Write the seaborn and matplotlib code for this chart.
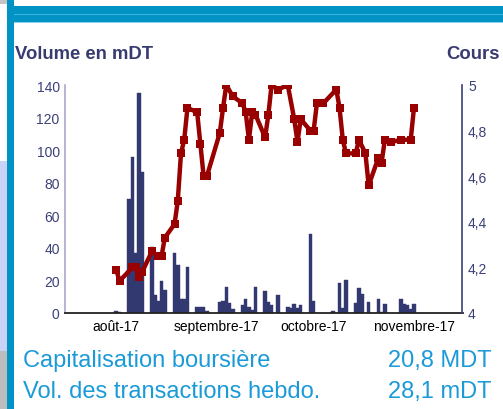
import matplotlib
matplotlib.use("Agg")
import matplotlib.pyplot as plt
import pandas as pd
import seaborn as sns
from matplotlib.patches import Rectangle

# ---------------- data ----------------
bar_dates = ["2017-08-01", "2017-08-02", "2017-08-05", "2017-08-06", "2017-08-07",
             "2017-08-08", "2017-08-09", "2017-08-12", "2017-08-13", "2017-08-14",
             "2017-08-15", "2017-08-16", "2017-08-19", "2017-08-20", "2017-08-21",
             "2017-08-22", "2017-08-23", "2017-08-26", "2017-08-27", "2017-08-28",
             "2017-08-29", "2017-09-02", "2017-09-03", "2017-09-04", "2017-09-05",
             "2017-09-06", "2017-09-09", "2017-09-10", "2017-09-11", "2017-09-12",
             "2017-09-13", "2017-09-16", "2017-09-17", "2017-09-18", "2017-09-20",
             "2017-09-23", "2017-09-24", "2017-09-25", "2017-09-26", "2017-09-27",
             "2017-09-30", "2017-10-01", "2017-10-07", "2017-10-09", "2017-10-10",
             "2017-10-11", "2017-10-14", "2017-10-15", "2017-10-16", "2017-10-18",
             "2017-10-21", "2017-10-22", "2017-10-23", "2017-10-28", "2017-10-29",
             "2017-10-30", "2017-10-31", "2017-11-01"]
volumes = [1.4, 0.8, 70, 95.7, 36.8,
           135, 86.3, 40.3, 11.2, 7.6,
           19.8, 14.3, 37, 29.7, 8.8,
           8.8, 28.4, 3.9, 3.9, 3.9,
           1.4, 7, 7.6, 16.2, 6.3,
           2.7, 5.1, 8.8, 3.9, 2,
           16.2, 13.7, 7, 5.1, 11.2,
           3.9, 3.3, 5.7, 3.3, 5.1,
           48.7, 7.6, 1.4, 18.6, 3.3,
           20.4, 6.3, 15.5, 11.9, 7,
           8.8, 0.8, 5.7, 8.8, 5.7,
           5.1, 2.7, 5.7]

line_dates = ["2017-08-01", "2017-08-02", "2017-08-06", "2017-08-07", "2017-08-08",
              "2017-08-09", "2017-08-12", "2017-08-14", "2017-08-15", "2017-08-16",
              "2017-08-19", "2017-08-20", "2017-08-21", "2017-08-22", "2017-08-23",
              "2017-08-26", "2017-08-27", "2017-08-28", "2017-08-29", "2017-09-02",
              "2017-09-03", "2017-09-04", "2017-09-06", "2017-09-09", "2017-09-10",
              "2017-09-11", "2017-09-12", "2017-09-13", "2017-09-16", "2017-09-17",
              "2017-09-18", "2017-09-20", "2017-09-23", "2017-09-25", "2017-09-26",
              "2017-09-27", "2017-09-30", "2017-10-01", "2017-10-02", "2017-10-04",
              "2017-10-08", "2017-10-09", "2017-10-10", "2017-10-11", "2017-10-14",
              "2017-10-15", "2017-10-17", "2017-10-18", "2017-10-21", "2017-10-22",
              "2017-10-23", "2017-10-25", "2017-10-28", "2017-10-31", "2017-11-01"]
prices = [4.19, 4.14, 4.20, 4.20, 4.16,
          4.18, 4.27, 4.25, 4.25, 4.33,
          4.39, 4.49, 4.70, 4.76, 4.90,
          4.88, 4.74, 4.60, 4.60, 4.79,
          4.90, 5.00, 4.95, 4.92, 4.88,
          4.76, 4.88, 4.87, 4.77, 4.87,
          5.00, 4.98, 5.00, 4.85, 4.75,
          4.85, 4.80, 4.80, 4.92, 4.92,
          4.98, 4.90, 4.76, 4.70, 4.70,
          4.76, 4.70, 4.56, 4.68, 4.66,
          4.76, 4.75, 4.76, 4.76, 4.90]

month_ticks = ["2017-08-01", "2017-09-01", "2017-10-01", "2017-11-01"]
month_labels = ["août-17", "septembre-17", "octobre-17", "novembre-17"]
left_ticks = [0, 20, 40, 60, 80, 100, 120, 140]
right_ticks = [4.0, 4.2, 4.4, 4.6, 4.8, 5.0]
right_labels = ["4", "4,2", "4,4", "4,6", "4,8", "5"]
x_start, x_end = "2017-07-16", "2017-11-16"

title_left = "Volume en mDT"
title_right = "Cours"
info_labels = ["Capitalisation boursière", "Vol. des transactions hebdo."]
info_values = ["20,8 MDT", "28,1 mDT"]

# ---------------- styling ----------------
sns.set_theme(style="white")
plt.rcParams["font.family"] = ["Liberation Sans", "DejaVu Sans"]

BAR = "#323970"
LINE = "#990000"
NAVY = "#383b70"
TICK = "#3b4079"
INFO = "#1b9ad8"
BAND = "#0093c4"

origin = pd.Timestamp("2017-08-01")


def to_day(ds):
    return [float((pd.Timestamp(d) - origin).days) for d in ds]


bar_x = to_day(bar_dates)
line_x = to_day(line_dates)
tick_x = to_day(month_ticks)
xlim = to_day([x_start, x_end])

W, H = 503, 410
fig = plt.figure(figsize=(W / 100, H / 100), dpi=100)
fig.patch.set_facecolor("white")


def rect(x0, y0, x1, y1, c):
    fig.patches.append(Rectangle((x0 / W, 1 - y1 / H), (x1 - x0) / W, (y1 - y0) / H,
                                 transform=fig.transFigure, facecolor=c,
                                 edgecolor="none", zorder=0))


# page decorations (left strip and top band)
rect(0, 0, 7, 5, "#c4c4c4")
rect(0, 162, 7, 352, "#c9d3f7")
rect(0, 352, 7, 410, "#bdbdbd")
rect(7, 0, 14, 410, BAND)
rect(7, 6.7, 503, 23.3, BAND)
rect(14, 14.5, 503, 15.5, "#3fb3dd")
rect(14, 23.3, 503, 24.3, "#8fd3ec")

ax = fig.add_axes([64.5 / W, 96 / H, 398 / W, 228 / H])
ax.set_facecolor("none")

sns.barplot(x=bar_x, y=volumes, native_scale=True, width=1.1, color=BAR,
            saturation=1, errorbar=None, linewidth=0.3, edgecolor=BAR, ax=ax)
ax.set_xlim(*xlim)
ax.set_ylim(0, 140)
ax.set_yticks(left_ticks)
ax.set_yticklabels([str(v) for v in left_ticks])
ax.set_xticks(tick_x)
ax.set_xticklabels(month_labels)
ax.set_xlabel("")
ax.set_ylabel("")
ax.grid(False)
for s in ["top", "right"]:
    ax.spines[s].set_visible(False)
ax.spines["left"].set_color("#a9a9c9")
ax.spines["left"].set_linewidth(1.2)
ax.spines["bottom"].set_color("#222222")
ax.spines["bottom"].set_linewidth(1.3)
ax.tick_params(axis="y", length=0, pad=3.5, labelsize=10, labelcolor=TICK)
ax.tick_params(axis="x", length=0, pad=4, labelsize=10, labelcolor="black")

ax2 = ax.twinx()
sns.lineplot(x=line_x, y=prices, ax=ax2, color=LINE, linewidth=3.2,
             marker="s", markersize=6, markeredgewidth=0, markerfacecolor=LINE)
ax2.set_ylim(4, 5)
ax2.set_xlim(*xlim)
ax2.set_yticks(right_ticks)
ax2.set_yticklabels(right_labels)
ax2.set_ylabel("")
ax2.grid(False)
for s in ["top", "left", "bottom"]:
    ax2.spines[s].set_visible(False)
ax2.spines["right"].set_color("#3a3f7a")
ax2.spines["right"].set_linewidth(1.2)
ax2.tick_params(axis="y", length=0, pad=4, labelsize=10, labelcolor=TICK)

# titles
fig.text(15 / W, 1 - 59.3 / H, title_left, fontsize=13.3, fontweight="bold",
         color=NAVY, ha="left", va="baseline")
fig.text(500 / W, 1 - 59.3 / H, title_right, fontsize=13.3, fontweight="bold",
         color=NAVY, ha="right", va="baseline")

# info lines
for i, (lab, val) in enumerate(zip(info_labels, info_values)):
    yb = 1 - (366.7 + 31.6 * i) / H
    fig.text(23.3 / W, yb, lab, fontsize=17, color=INFO, ha="left", va="baseline")
    fig.text(491.7 / W, yb, val, fontsize=17, color=INFO, ha="right", va="baseline")

fig.savefig("out.png", dpi=100)
